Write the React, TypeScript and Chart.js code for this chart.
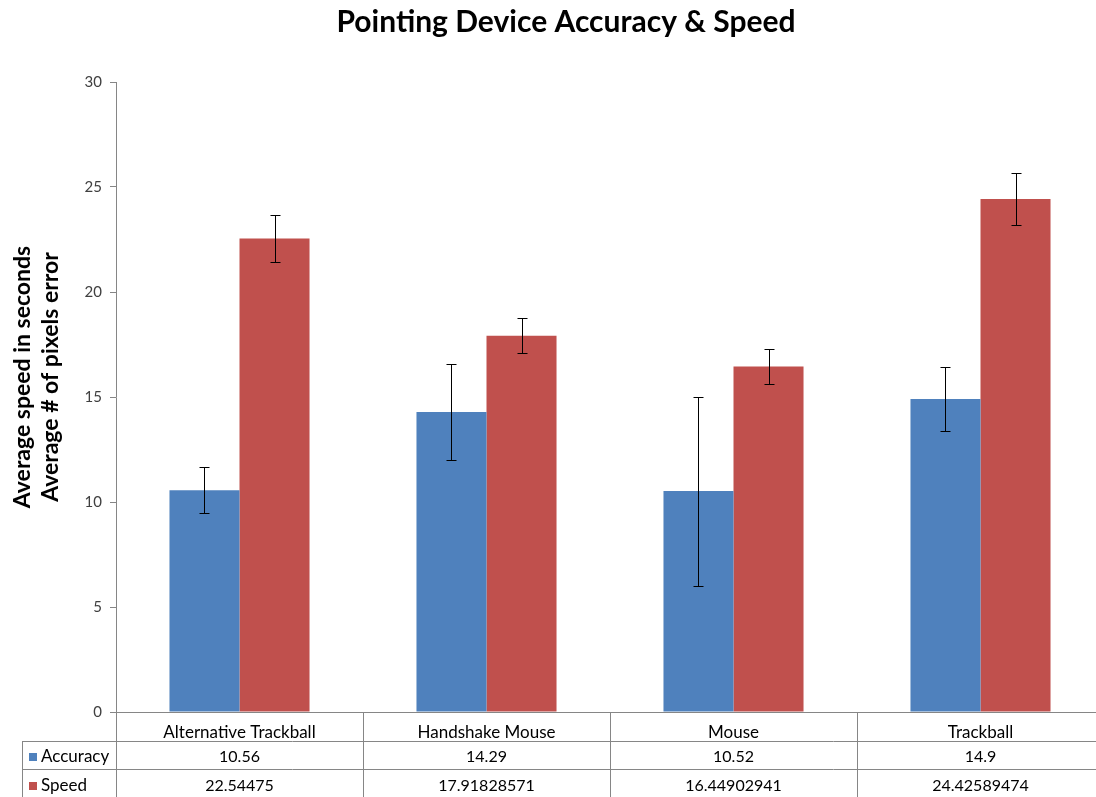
import React, { useEffect, useRef } from "react";
import { Chart, registerables } from "chart.js";

Chart.register(...registerables);

const categories = ["Alternative Trackball", "Handshake Mouse", "Mouse", "Trackball"];
const seriesNames = ["Accuracy", "Speed"];
const accuracy = [10.56, 14.29, 10.52, 14.9];
const speed = [22.54475, 17.91828571, 16.44902941, 24.42589474];
const accuracyErr = [1.1, 2.28, 4.5, 1.53];
const speedErr = [1.13, 0.84, 0.85, 1.22];
const seriesColors = ["#4F81BD", "#C0504D"];
const yMin = 0;
const yMax = 30;
const yStep = 5;
const titleText = "Pointing Device Accuracy & Speed";
const yTitle = ["Average speed in seconds", "Average # of pixels error"];

const FONT = "Lato, 'Open Sans', sans-serif";

const tablePlugin = {
  id: "excelTable",
  afterDatasetsDraw(chart: any) {
    const ctx = chart.ctx;
    const y = chart.scales.y;
    const errs = [accuracyErr, speedErr];
    const vals = [accuracy, speed];
    ctx.save();
    ctx.strokeStyle = "#000";
    ctx.lineWidth = 1;
    for (let d = 0; d < 2; d++) {
      const meta = chart.getDatasetMeta(d);
      meta.data.forEach((el: any, j: number) => {
        const x = Math.round(el.x) + 0.5;
        const t = Math.round(y.getPixelForValue(vals[d][j] + errs[d][j])) + 0.5;
        const b = Math.round(y.getPixelForValue(vals[d][j] - errs[d][j])) + 0.5;
        ctx.beginPath();
        ctx.moveTo(x, t);
        ctx.lineTo(x, b);
        ctx.moveTo(x - 5, t);
        ctx.lineTo(x + 5, t);
        ctx.moveTo(x - 5, b);
        ctx.lineTo(x + 5, b);
        ctx.stroke();
      });
    }
    ctx.restore();
  },
  afterDraw(chart: any) {
    const ctx = chart.ctx;
    const xs = chart.scales.x;
    const bottom = chart.chartArea.bottom;
    const n = categories.length;
    const catW = (xs.right - xs.left) / n;
    const W = chart.width;
    const r1 = bottom + 29;
    const r2 = bottom + 57;
    const r3 = bottom + 90;
    ctx.save();
    ctx.strokeStyle = "#868686";
    ctx.lineWidth = 1;
    ctx.beginPath();
    ctx.moveTo(22, Math.round(r1) + 0.5);
    ctx.lineTo(W, Math.round(r1) + 0.5);
    ctx.moveTo(22, Math.round(r2) + 0.5);
    ctx.lineTo(W, Math.round(r2) + 0.5);
    ctx.moveTo(22.5, r1);
    ctx.lineTo(22.5, r3);
    for (let k = 0; k <= n; k++) {
      const x = Math.round(xs.left + k * catW) + 0.5;
      ctx.moveTo(x, bottom);
      ctx.lineTo(x, r3);
    }
    ctx.stroke();

    // title
    ctx.fillStyle = "#000";
    ctx.font = `bold 30px ${FONT}`;
    ctx.textAlign = "center";
    ctx.textBaseline = "middle";
    ctx.fillText(titleText, 566, 22);

    // y-axis title (two lines, rotated)
    ctx.save();
    ctx.font = `bold 23px ${FONT}`;
    ctx.translate(0, 377);
    ctx.rotate(-Math.PI / 2);
    ctx.fillText(yTitle[0], 0, 23);
    ctx.fillText(yTitle[1], 0, 51);
    ctx.restore();

    // row headers and values
    const rows = [accuracy, speed];
    const rowMid = [r1 + 16, r2 + 17];
    for (let r = 0; r < 2; r++) {
      ctx.fillStyle = seriesColors[r];
      ctx.fillRect(29, Math.round(rowMid[r]) - 4, 8, 8);
      ctx.fillStyle = "#000";
      ctx.textAlign = "left";
      ctx.font = `17px ${FONT}`;
      ctx.fillText(seriesNames[r], 41, rowMid[r]);
      ctx.textAlign = "center";
      ctx.font = `16px ${FONT}`;
      for (let j = 0; j < n; j++) {
        const cx = xs.left + (j + 0.5) * catW;
        ctx.fillText(String(rows[r][j]), cx, rowMid[r]);
      }
    }
    ctx.restore();
  },
};

export default function App() {
  const ref = useRef<HTMLCanvasElement | null>(null);
  useEffect(() => {
    if (!ref.current) return;
    const chart = new Chart(ref.current, {
      type: "bar",
      data: {
        labels: categories,
        datasets: [
          { label: seriesNames[0], data: accuracy, backgroundColor: seriesColors[0] },
          { label: seriesNames[1], data: speed, backgroundColor: seriesColors[1] },
        ],
      },
      options: {
        animation: false,
        responsive: false,
        maintainAspectRatio: false,
        layout: { padding: { top: 82, bottom: 56, left: 0, right: 0 } },
        datasets: { bar: { categoryPercentage: 0.567, barPercentage: 1.0 } } as any,
        plugins: {
          legend: { display: false },
          title: { display: false },
          tooltip: { enabled: false },
        },
        scales: {
          x: {
            grid: { display: false },
            border: { display: true, color: "#868686" },
            ticks: { color: "#000", font: { family: FONT, size: 17 }, padding: 2, maxRotation: 0 },
            afterFit: (s: any) => {
              s.height = 29;
            },
          },
          y: {
            min: yMin,
            max: yMax,
            ticks: { stepSize: yStep, color: "#404040", font: { family: FONT, size: 15 }, padding: 8 },
            grid: { drawOnChartArea: false, drawTicks: true, tickLength: 6, color: "#868686" },
            border: { display: true, color: "#868686" },
            title: { display: false },
            afterFit: (s: any) => {
              s.width = 116;
            },
          },
        },
      },
      plugins: [tablePlugin],
    });
    return () => chart.destroy();
  }, []);
  return (
    <div style={{ position: "fixed", left: 0, top: 0, width: 1096, height: 797, overflow: "hidden", background: "#fff" }}>
      <canvas ref={ref} width={1104} height={797} style={{ display: "block" }} />
    </div>
  );
}
